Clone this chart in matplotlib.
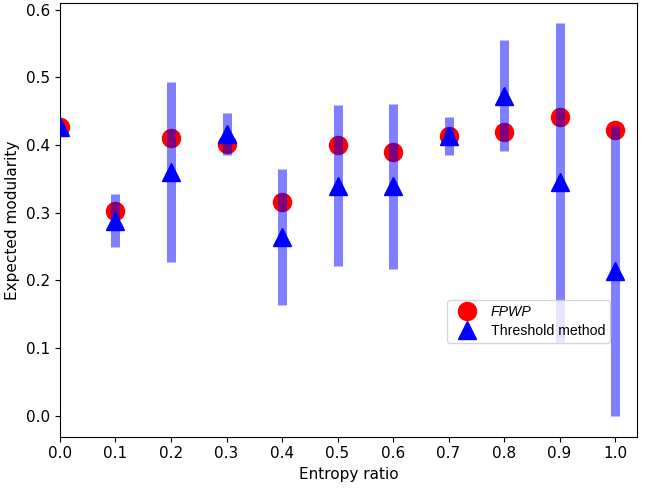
import numpy as np
import matplotlib
matplotlib.use("Agg")
import matplotlib.pyplot as plt

# Values
entropy_ratio = [0.0, 0.1, 0.2, 0.3, 0.4, 0.5, 0.6, 0.7, 0.8, 0.9, 1.0]
fpwp = [0.427, 0.302, 0.410, 0.402, 0.316, 0.400, 0.390, 0.413, 0.419, 0.441, 0.422]
threshold = [0.426, 0.288, 0.360, 0.417, 0.264, 0.340, 0.339, 0.413, 0.473, 0.345, 0.214]
threshold_err = [0.0, 0.039, 0.133, 0.031, 0.100, 0.119, 0.122, 0.028, 0.082, 0.236, 0.214]

fig, ax = plt.subplots(figsize=(6.45, 4.88), dpi=100)

# FPWP markers sit underneath the error bars
ax.plot(entropy_ratio, fpwp, "o", color="red", markersize=13, label="FPWP", zorder=2)
ax.errorbar(entropy_ratio, threshold, yerr=threshold_err, fmt="none",
            ecolor="blue", elinewidth=6.5, alpha=0.5, zorder=3)
ax.plot(entropy_ratio, threshold, "^", color="blue", markersize=13,
        label="Threshold method", zorder=4)

ax.set_xlim(0.0, 1.04)
ax.set_ylim(-0.031, 0.61)
ax.set_xticks(np.arange(0, 1.01, 0.1))
ax.set_yticks(np.arange(0, 0.61, 0.1))
ax.tick_params(labelsize=11)
ax.set_xlabel("Entropy ratio", fontsize=11)
ax.set_ylabel("Expected modularity", fontsize=11)

leg = ax.legend(loc="lower right", bbox_to_anchor=(0.953, 0.217),
                borderaxespad=0.0,
                prop={"family": "Liberation Sans", "size": 10.2},
                handletextpad=0.7, borderpad=0.35, labelspacing=0.3)
leg.get_texts()[0].set_fontstyle("italic")

fig.subplots_adjust(left=0.093, right=0.988, top=0.994, bottom=0.105)
fig.savefig("out.png", dpi=100)
plt.close(fig)
